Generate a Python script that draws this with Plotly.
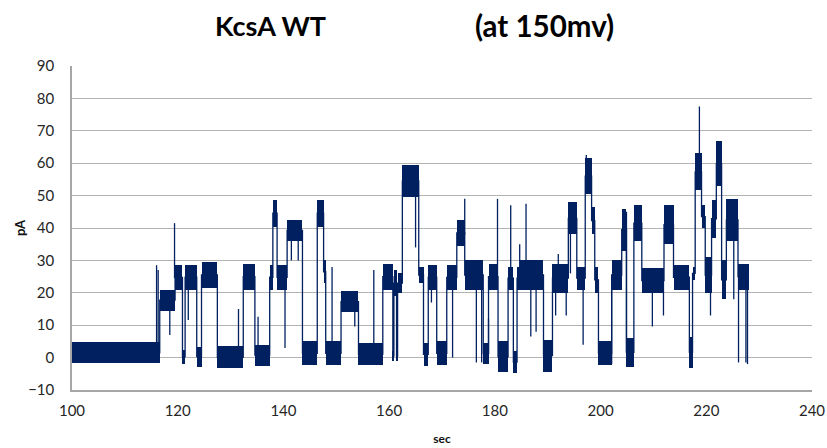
import plotly.graph_objects as go

# ---- data (time in sec, current in pA) ----
dwell_start = [100.0, 116.6, 119.5, 120.9, 121.4, 123.6, 124.5, 127.5, 132.4, 134.6,
               137.4, 138.0, 138.8, 140.7, 143.6, 146.4, 147.6, 148.0, 150.9, 154.2,
               158.8, 160.7, 160.9, 161.4, 161.6, 162.5, 165.6, 166.5, 167.4, 169.0,
               170.9, 172.8, 174.3, 177.8, 178.8, 180.6, 182.5, 183.5, 184.2, 184.7,
               189.2, 190.9, 193.9, 195.5, 197.1, 198.3, 198.9, 199.6, 202.1, 204.0,
               204.9, 206.3, 207.8, 212.0, 213.8, 216.8, 217.4, 217.9, 219.1, 219.8,
               221.0, 221.9, 222.9, 223.8, 226.0]
dwell_low = [-1.8, 14.5, 21.0, -2.0, 21.0, -2.8, 21.5, -3.3, 21.0, -2.5,
             21.0, 40.4, 21.0, 36.0, -2.3, 40.4, 23.0, -2.3, 14.0, -2.3,
             21.0, -1.0, 19.0, -1.0, 20.0, 49.5, 23.0, -2.5, 21.0, -2.3,
             21.0, 34.5, 21.0, -2.0, 21.0, -4.5, 21.0, -4.8, 21.0, 21.0,
             -4.3, 20.0, 38.0, 21.0, 50.5, 38.0, 20.0, -2.3, 21.0, 33.0,
             -2.8, 36.0, 20.0, 35.0, 21.0, -3.3, 24.0, 51.7, 40.0, 20.0,
             37.0, 53.0, 18.0, 36.0, 21.0]
dwell_high = [4.8, 21.0, 28.5, 2.5, 28.6, 3.4, 29.5, 3.5, 29.0, 4.0,
              28.6, 48.7, 28.6, 42.5, 5.0, 48.7, 30.0, 5.0, 20.5, 4.5,
              29.0, 2.0, 27.0, 2.0, 26.0, 59.5, 28.0, 4.5, 28.6, 5.0,
              28.5, 42.5, 30.0, 4.5, 29.0, 5.0, 28.0, 2.0, 28.0, 30.0,
              5.5, 29.0, 48.0, 28.0, 61.5, 46.6, 28.0, 5.0, 30.0, 46.0,
              6.0, 47.0, 27.6, 47.0, 28.6, 6.5, 28.0, 63.0, 47.0, 31.0,
              48.7, 66.7, 30.0, 49.0, 29.0]
trace_end = 228.0

spike_time = [116.0, 116.3, 118.5, 119.4, 122.0, 131.5, 135.2, 140.3, 141.5, 142.8,
              149.2, 153.5, 157.1, 165.0, 168.0, 172.0, 174.3, 176.5, 177.5, 178.8,
              180.5, 183.0, 184.7, 185.9, 186.8, 187.8, 191.5, 192.0, 193.5, 194.3,
              196.7, 197.3, 202.1, 204.9, 209.8, 211.9, 218.7, 220.8, 225.2, 226.1,
              227.5, 227.8]
spike_base = [1.5, 1.5, 17.5, 24.5, 25.0, 0.0, 0.5, 25.0, 39.0, 39.0,
              1.5, 17.0, 1.0, 54.0, 25.0, 25.0, 38.0, 25.0, 25.0, 1.0,
              25.0, 25.0, 25.0, 25.0, 25.0, 25.0, 24.0, 24.0, 24.0, 43.0,
              24.0, 56.0, 25.0, 1.5, 24.0, 24.0, 57.0, 25.0, 42.0, 25.0,
              25.0, 25.0]
spike_peak = [28.5, 27.0, 7.0, 41.5, 11.6, 15.0, 12.6, 3.0, 30.0, 30.0,
              28.0, 9.6, 27.0, 34.0, 17.0, 0.0, 49.0, -1.5, -1.5, 12.0,
              49.0, 47.0, 35.0, 47.5, 6.5, 8.0, 13.0, 32.0, 13.0, 26.0,
              4.0, 62.5, -2.0, 45.0, 9.6, 13.0, 77.5, 13.0, 18.0, -1.5,
              -1.5, -2.0]

y_ticks = [-10, 0, 10, 20, 30, 40, 50, 60, 70, 80, 90]
x_ticks = [100, 120, 140, 160, 180, 200, 220, 240]

NAVY = "#002060"
FONT = "Lato"
TICK_COLOR = "#262626"

dwell_end = dwell_start[1:] + [trace_end]
dwell_mid = [(lo + hi) / 2 for lo, hi in zip(dwell_low, dwell_high)]

fig = go.Figure()

# noise bands of each dwell
fig.add_trace(go.Bar(
    x=[(s + e) / 2 for s, e in zip(dwell_start, dwell_end)],
    width=[e - s for s, e in zip(dwell_start, dwell_end)],
    base=dwell_low,
    y=[hi - lo for lo, hi in zip(dwell_low, dwell_high)],
    marker=dict(color=NAVY, line=dict(width=0)),
    hoverinfo="skip", showlegend=False,
))

# transitions between levels
fig.add_trace(go.Scatter(
    x=dwell_start + [trace_end], y=dwell_mid + [dwell_mid[-1]],
    mode="lines", line=dict(color=NAVY, width=1.3, shape="hv"),
    hoverinfo="skip", showlegend=False,
))

# brief excursions
sx, sy = [], []
for t, b, p in zip(spike_time, spike_base, spike_peak):
    sx += [t, t, None]
    sy += [b, p, None]
fig.add_trace(go.Scatter(
    x=sx, y=sy, mode="lines", line=dict(color=NAVY, width=1.3),
    hoverinfo="skip", showlegend=False,
))

fig.update_layout(
    width=827, height=448,
    margin=dict(l=72, r=15, t=66, b=58),
    paper_bgcolor="white", plot_bgcolor="white",
    barmode="overlay", bargap=0,
    font=dict(family=FONT, color=TICK_COLOR),
    xaxis=dict(range=[100, 240], tickvals=x_ticks, showgrid=False, automargin=False,
               showline=True, linecolor="#a6a6a6", linewidth=1.5, zeroline=False,
               ticks="", tickfont=dict(size=15, color=TICK_COLOR),
               ticklabelstandoff=6,
               title=dict(text="<b>sec</b>", font=dict(size=12, color="#111111"), standoff=17)),
    yaxis=dict(range=[-10, 90], tickvals=y_ticks, showgrid=True, automargin=False,
               gridcolor="#b3b3b3", gridwidth=1.2,
               showline=True, linecolor="#a6a6a6", linewidth=1.5, zeroline=False,
               ticks="", tickfont=dict(size=15, color=TICK_COLOR),
               ticklabelstandoff=13,
               title=dict(text="<b>pA</b>", font=dict(size=13, color="#111111"), standoff=0)),
    annotations=[
        dict(text="<b>KcsA WT</b>", xref="paper", yref="paper",
             x=(270 - 72) / 740, y=(390 - 26) / 324, xanchor="center", yanchor="middle",
             showarrow=False, font=dict(size=27, color="black", family=FONT)),
        dict(text="<b>(at 150mv)</b>", xref="paper", yref="paper",
             x=(544 - 72) / 740, y=(390 - 26) / 324, xanchor="center", yanchor="middle",
             showarrow=False, font=dict(size=29.5, color="black", family=FONT)),
    ],
)

fig.write_html("out.html", config={"displayModeBar": False},
               post_script="document.body.style.margin='0';")
